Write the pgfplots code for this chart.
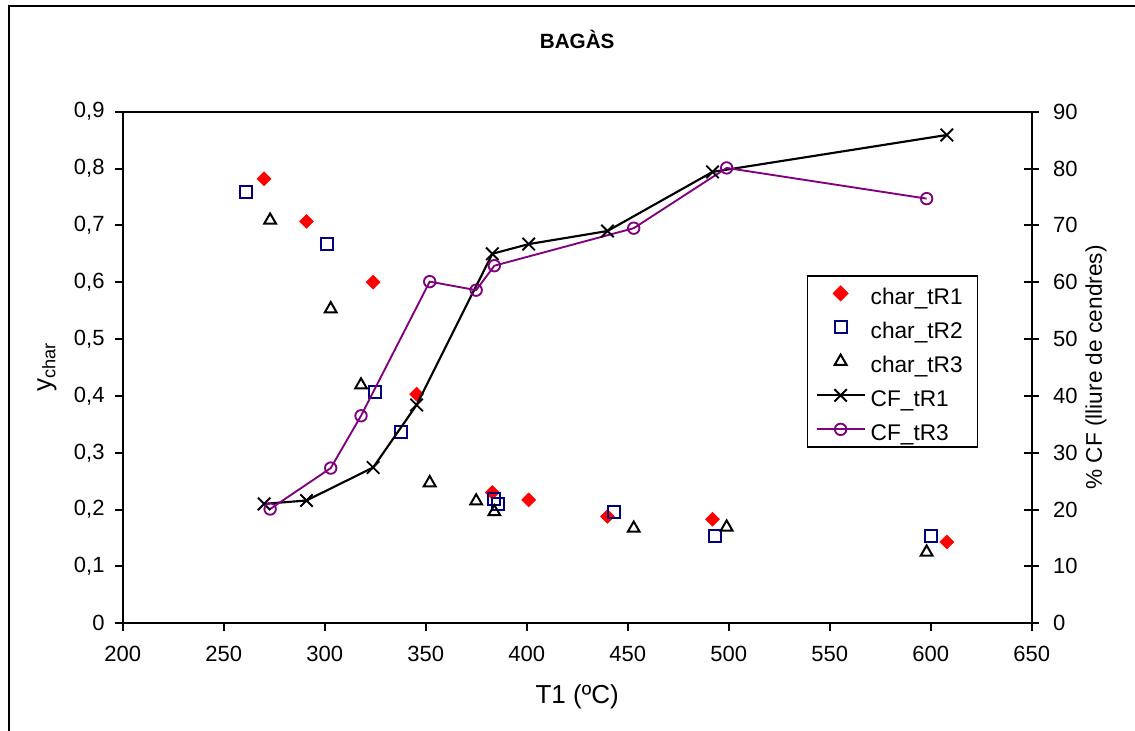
\documentclass[border=0pt]{standalone}
\usepackage{pgfplots}
\pgfplotsset{compat=1.18}
\usepackage{fontspec}
\setmainfont{Liberation Sans}

\definecolor{charred}{RGB}{255,0,0}
\definecolor{charblue}{RGB}{0,0,128}
\definecolor{cfpurple}{RGB}{128,0,128}

% y_char against T1 for the three runs
\pgfplotstableread{
T     y
270   0.782
291   0.707
324   0.600
345.5 0.403
383   0.230
401   0.217
440   0.188
492   0.183
608   0.143
}\charA
\pgfplotstableread{
T     y
261   0.759
301   0.667
325   0.406
338   0.337
384   0.218
386   0.210
443   0.195
493   0.154
600   0.153
}\charB
\pgfplotstableread{
T     y
273   0.709
303   0.553
318   0.419
352   0.247
375   0.215
384   0.196
453   0.167
499   0.169
598   0.125
}\charC
% ash-free carbon fraction (%)
\pgfplotstableread{
T     cf
270   21.0
291   21.6
324   27.4
345.5 38.4
383   65.0
401   66.7
440   69.0
492   79.4
608   85.9
}\cfA
\pgfplotstableread{
T     cf
273   20.1
303   27.3
318   36.5
352   60.1
375   58.6
384   62.9
453   69.5
499   80.1
598   74.7
}\cfC

\newcommand{\ticksize}{\fontsize{16.5}{19}\selectfont}
\newcommand{\labelsize}{\fontsize{19.5}{23}\selectfont}

\pgfplotsset{
  markleg/.style={legend image code/.code={\draw[##1] plot coordinates {(18pt,0pt)};}},
  lineleg/.style={legend image code/.code={\draw[mark repeat=2,mark phase=2,##1] plot coordinates {(0pt,0pt) (18pt,0pt) (36pt,0pt)};}},
  charAstyle/.style={only marks, mark=square*, mark size=3.7pt, color=charred, mark options={rotate=45}},
  charBstyle/.style={only marks, mark=square, mark size=4.5pt, color=charblue, mark options={line width=1.5pt}},
  charCstyle/.style={only marks, mark=triangle, mark size=5.1pt, color=black, mark options={line width=1.5pt}},
  cfAstyle/.style={black, line width=1.6pt, mark=x, mark size=6.6pt, mark options={line width=1.4pt}},
  cfCstyle/.style={cfpurple, line width=1.4pt, mark=o, mark size=4.3pt, mark options={line width=1.4pt}},
}

\begin{document}
\begin{tikzpicture}[x=1pt,y=1pt]
\useasboundingbox (0,0) rectangle (851.25,548.25);
% outer chart frame
\draw[line width=1.7pt] (6.75,-10) -- (6.75,543.75) -- (870,543.75);

\pgfplotsset{
  every axis/.append style={
    scale only axis,
    width=681.75pt, height=383.7pt,
    at={(92pt,80.8pt)}, anchor=south west,
    xmin=200, xmax=650,
    font=\ticksize,
    tick label style={font=\ticksize},
    axis line style={line width=1.5pt},
    major tick style={black, line width=1.5pt},
    /pgf/number format/assume math mode=true,
    clip=false,
  },
}

\begin{axis}[
  ymin=0, ymax=0.9,
  xtick={200,250,...,650},
  ytick={0,0.1,0.2,0.3,0.4,0.5,0.6,0.7,0.8,0.9},
  xtick pos=bottom, ytick pos=left,
  tick align=outside, major tick length=5.6pt,
  yticklabel style={xshift=-4.5pt, /pgf/number format/.cd, fixed, precision=1, use comma},
  xticklabel style={yshift=-8pt, /pgf/number format/.cd, set thousands separator={}},
  title={\bfseries BAGÀS},
  title style={at={(axis description cs:0.5,1.108)}, anchor=base, font=\fontsize{15.5}{18}\selectfont},
  xlabel={T1 (ºC)},
  xlabel style={at={(axis description cs:0.5,-0.1574)}, anchor=base, font=\labelsize},
  ylabel={y\textsubscript{char}},
  ylabel style={at={(axis description cs:-0.0833,0.5)}, anchor=center, font=\labelsize},
]
\addplot[charAstyle] table[x=T,y=y] {\charA};
\addplot[charBstyle] table[x=T,y=y] {\charB};
\addplot[charCstyle] table[x=T,y=y] {\charC};
\end{axis}

\begin{axis}[
  axis x line=none, axis y line*=right,
  ymin=0, ymax=90,
  ytick={0,10,...,90},
  tick align=center, major tick length=11.25pt,
  yticklabel style={xshift=7pt},
  ylabel={\% CF (lliure de cendres)},
  ylabel style={at={(axis description cs:1.0707,0.5)}, anchor=center, font=\fontsize{17}{20}\selectfont},
  legend style={at={(rel axis cs:0.7525,0.681)}, anchor=north west,
    draw=black, line width=1.3pt, fill=white, font=\fontsize{17}{20}\selectfont,
    inner xsep=6pt, inner ysep=4.6pt, row sep=8.25pt, column sep=3.75pt,
    nodes={inner sep=0pt, text height=17.25pt, text depth=0pt, text width=74pt, align=left}},
  legend cell align=left,
]
\addlegendimage{charAstyle, markleg}
\addlegendentry{char\_tR1}
\addlegendimage{charBstyle, markleg}
\addlegendentry{char\_tR2}
\addlegendimage{charCstyle, markleg}
\addlegendentry{char\_tR3}
\addlegendimage{cfAstyle, lineleg}
\addlegendentry{CF\_tR1}
\addlegendimage{cfCstyle, lineleg}
\addlegendentry{CF\_tR3}

\addplot[forget plot, cfAstyle] table[x=T,y=cf] {\cfA};
\addplot[forget plot, cfCstyle] table[x=T,y=cf] {\cfC};
\end{axis}
\end{tikzpicture}
\end{document}
